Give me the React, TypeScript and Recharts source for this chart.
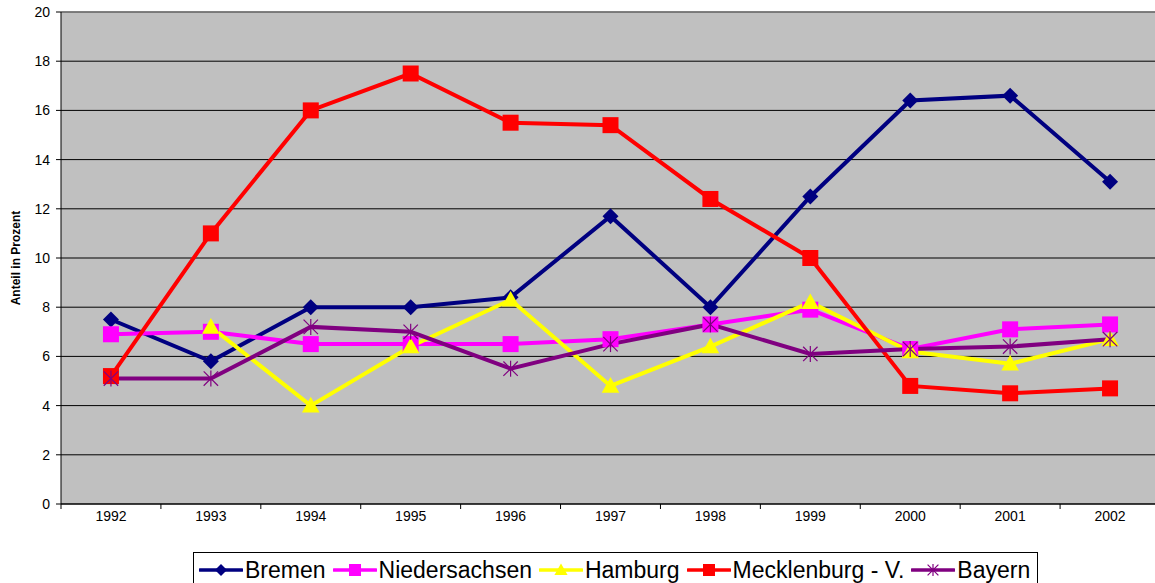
import React from 'react';
import { LineChart, Line, XAxis, YAxis, CartesianGrid, ReferenceLine } from 'recharts';

const years = ['1992', '1993', '1994', '1995', '1996', '1997', '1998', '1999', '2000', '2001', '2002'];
const bremen = [7.5, 5.8, 8.0, 8.0, 8.4, 11.7, 8.0, 12.5, 16.4, 16.6, 13.1];
const niedersachsen = [6.9, 7.0, 6.5, 6.5, 6.5, 6.7, 7.3, 7.9, 6.3, 7.1, 7.3];
const hamburg = [null, 7.2, 4.0, 6.4, 8.3, 4.8, 6.4, 8.2, 6.2, 5.7, 6.7];
const mecklenburg = [5.2, 11.0, 16.0, 17.5, 15.5, 15.4, 12.4, 10.0, 4.8, 4.5, 4.7];
const bayern = [5.1, 5.1, 7.2, 7.0, 5.5, 6.5, 7.3, 6.1, 6.3, 6.4, 6.7];
const yTicks = [0, 2, 4, 6, 8, 10, 12, 14, 16, 18, 20];

const data = years.map((year, i) => ({
    x: i + 0.5,
    year,
    bremen: bremen[i],
    niedersachsen: niedersachsen[i],
    hamburg: hamburg[i],
    mecklenburg: mecklenburg[i],
    bayern: bayern[i],
}));

const W = 1155;
const H = 583;
const CHART_W = 1160;
const Y_W = 61;
const HALF_BAND = (CHART_W - Y_W) / years.length / 2;
const FONT = 'Arial, "Liberation Sans", sans-serif';

type Shape = 'diamond' | 'square' | 'triangle' | 'asterisk';

function Marker({ shape, color, cx, cy, r = 8 }: { shape: Shape; color: string; cx: number; cy: number; r?: number }) {
    if (shape === 'diamond') {
        return <polygon points={`${cx},${cy - r} ${cx + r},${cy} ${cx},${cy + r} ${cx - r},${cy}`} fill={color} />;
    }
    if (shape === 'square') {
        return <rect x={cx - r} y={cy - r} width={2 * r} height={2 * r} fill={color} />;
    }
    if (shape === 'triangle') {
        return <polygon points={`${cx},${cy - r * 1.1} ${cx + r * 1.1},${cy + r * 0.85} ${cx - r * 1.1},${cy + r * 0.85}`} fill={color} />;
    }
    const d = r * 0.9;
    return (
        <g stroke={color} strokeWidth={1.2}>
            <line x1={cx - d} y1={cy - d} x2={cx + d} y2={cy + d} />
            <line x1={cx - d} y1={cy + d} x2={cx + d} y2={cy - d} />
            <line x1={cx} y1={cy - r} x2={cx} y2={cy + r} />
        </g>
    );
}

const series: Array<{ key: string; name: string; color: string; shape: Shape }> = [
    { key: 'bremen', name: 'Bremen', color: '#000080', shape: 'diamond' },
    { key: 'niedersachsen', name: 'Niedersachsen', color: '#FF00FF', shape: 'square' },
    { key: 'hamburg', name: 'Hamburg', color: '#FFFF00', shape: 'triangle' },
    { key: 'mecklenburg', name: 'Mecklenburg - V.', color: '#FF0000', shape: 'square' },
    { key: 'bayern', name: 'Bayern', color: '#800080', shape: 'asterisk' },
];

function XTick(props: any) {
    const { x, y, payload } = props;
    const label = years[payload.value];
    if (!label) return <g />;
    return (
        <text x={x + HALF_BAND} y={y + 10} textAnchor="middle" fontSize={14} fill="#000" fontFamily={FONT}>
            {label}
        </text>
    );
}

export default function App() {
    return (
        <div style={{ position: 'fixed', left: 0, top: 0, width: W, height: H, background: '#fff', fontFamily: FONT, overflow: 'hidden' }}>
            <LineChart width={CHART_W} height={H} data={data} margin={{ top: 12, right: 0, left: 0, bottom: 49 }}>
                <CartesianGrid vertical={false} stroke="#000" fill="#C0C0C0" fillOpacity={1} />
                <ReferenceLine y={20} stroke="#808080" strokeWidth={1.5} />
                <XAxis
                    dataKey="x"
                    type="number"
                    domain={[0, 11]}
                    ticks={[0, 1, 2, 3, 4, 5, 6, 7, 8, 9, 10, 11]}
                    interval={0}
                    height={30}
                    tickSize={5}
                    stroke="#000"
                    tick={<XTick />}
                />
                <YAxis
                    domain={[0, 20]}
                    ticks={yTicks}
                    interval={0}
                    width={Y_W}
                    tickSize={5}
                    tickMargin={6}
                    stroke="#000"
                    tick={{ fill: '#000', fontSize: 14, fontFamily: FONT }}
                    label={{
                        content: () => (
                            <text
                                x={20}
                                y={258}
                                transform="rotate(-90 20 258)"
                                textAnchor="middle"
                                fontSize={12}
                                fontWeight="bold"
                                fill="#000"
                                fontFamily={FONT}
                            >
                                Anteil in Prozent
                            </text>
                        ),
                    }}
                />
                {series.map((s) => (
                    <Line
                        key={s.key}
                        dataKey={s.key}
                        name={s.name}
                        stroke={s.color}
                        strokeWidth={4}
                        isAnimationActive={false}
                        activeDot={false}
                        dot={(p: any) =>
                            p.cy == null ? <g key={p.index} /> : (
                                <g key={p.index}>
                                    <Marker shape={s.shape} color={s.color} cx={p.cx} cy={p.cy} />
                                </g>
                            )
                        }
                    />
                ))}
            </LineChart>
            <div
                style={{
                    position: 'absolute',
                    left: 193,
                    top: 552,
                    height: 36,
                    boxSizing: 'border-box',
                    border: '1px solid #000',
                    display: 'flex',
                    alignItems: 'center',
                    padding: '0 0 0 5px',
                    background: '#fff',
                    whiteSpace: 'nowrap',
                }}
            >
                {series.map((s) => (
                    <div key={s.key} style={{ display: 'flex', alignItems: 'center', marginRight: 7, flexShrink: 0 }}>
                        <svg width={44} height={20}>
                            <line x1={1} y1={10} x2={43} y2={10} stroke={s.color} strokeWidth={3.5} strokeLinecap="round" />
                            <Marker shape={s.shape} color={s.color} cx={22} cy={10} r={6} />
                        </svg>
                        <span style={{ fontSize: 23, lineHeight: '26px', color: '#000', marginLeft: 2 }}>{s.name}</span>
                    </div>
                ))}
            </div>
        </div>
    );
}
